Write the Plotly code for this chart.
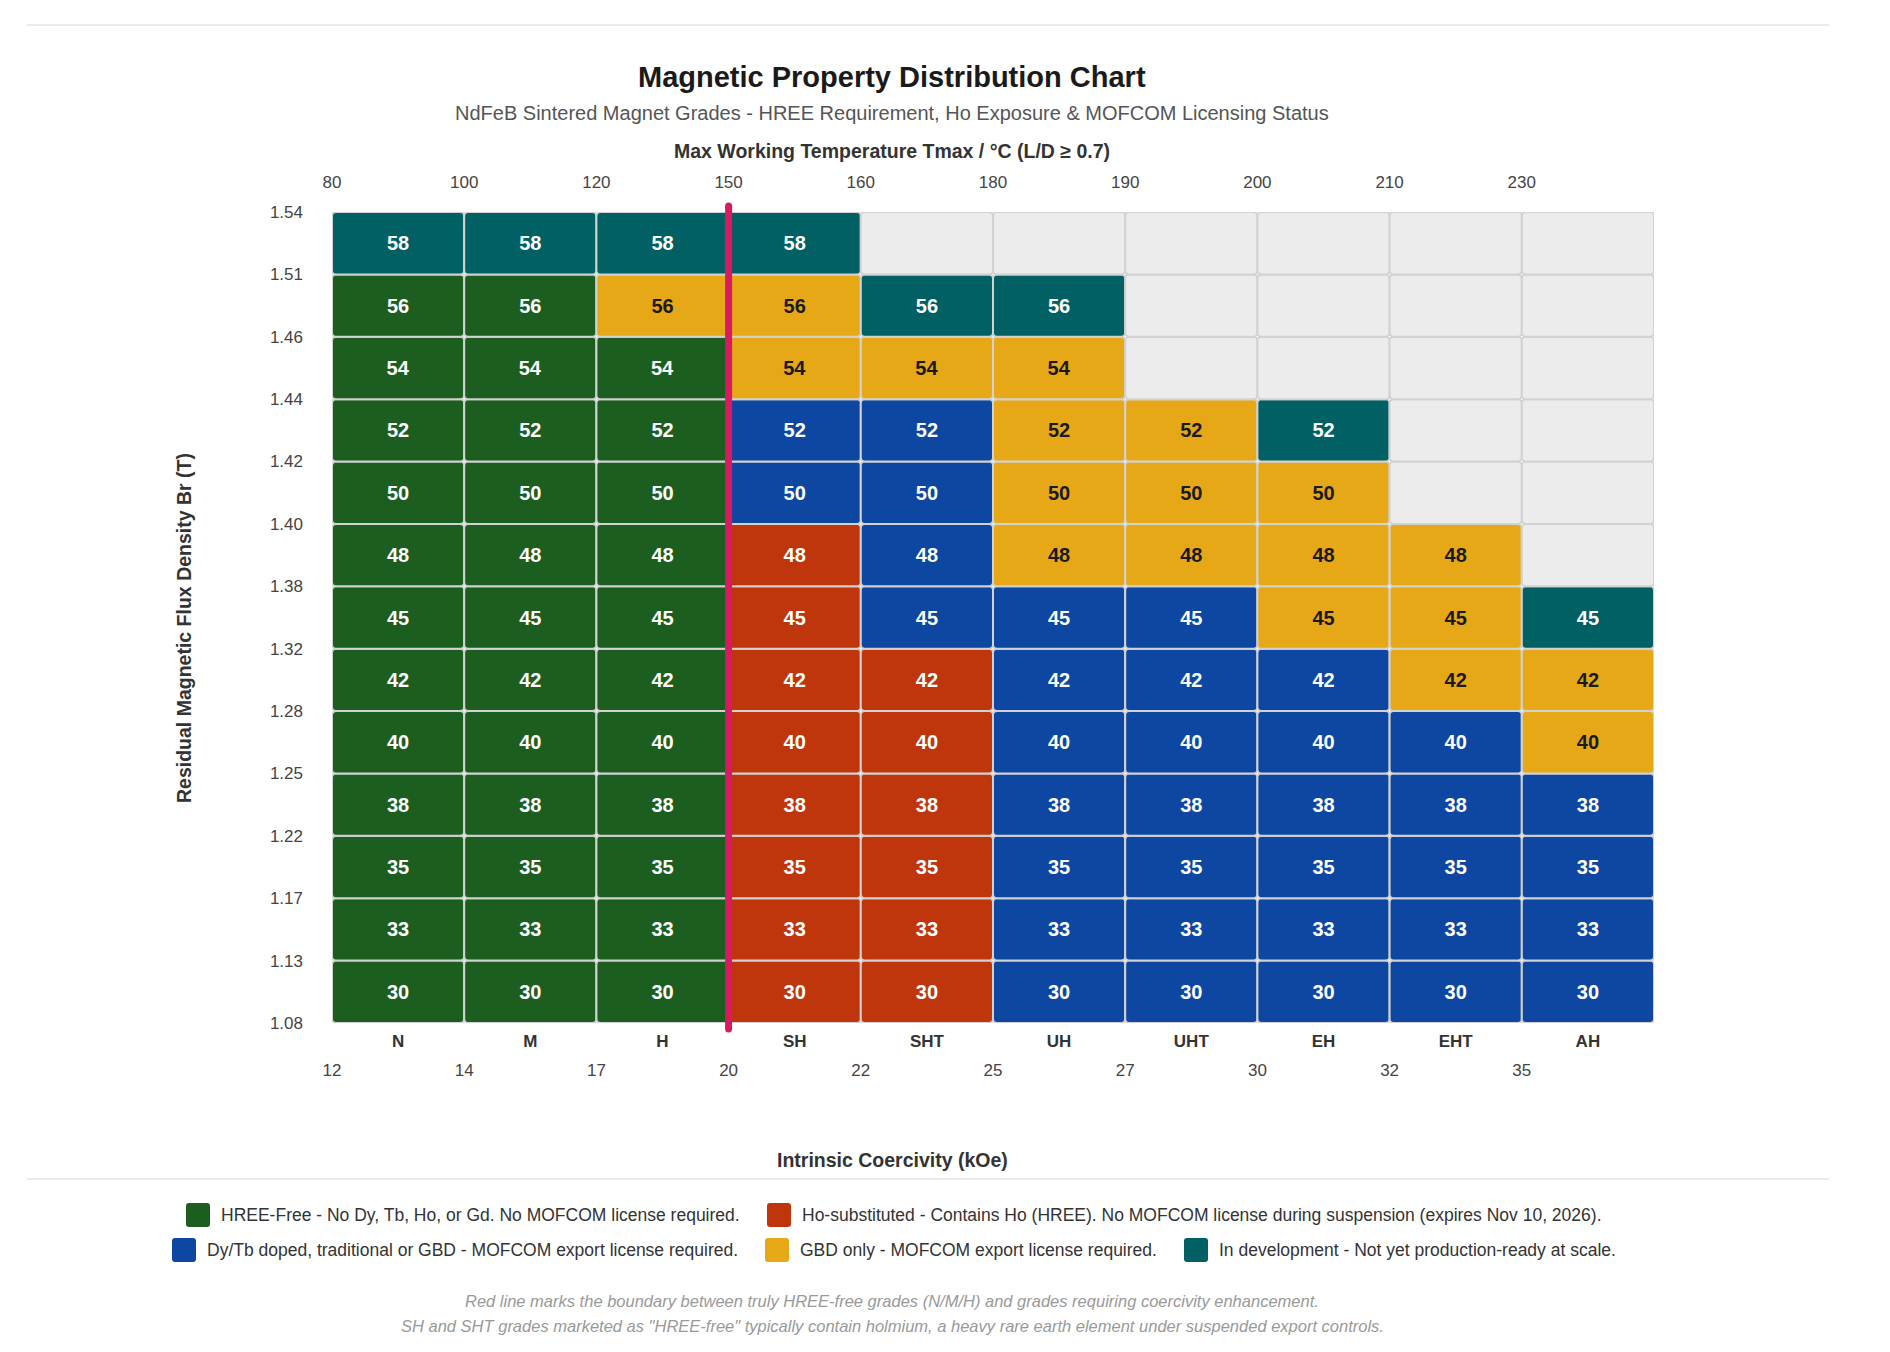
import plotly.graph_objects as go

# grade columns (left -> right) with their Tmax / Hcj boundary ticks
grades = ["N", "M", "H", "SH", "SHT", "UH", "UHT", "EH", "EHT", "AH"]
tmax_c = [80, 100, 120, 150, 160, 180, 190, 200, 210, 230]
hcj_koe = [12, 14, 17, 20, 22, 25, 27, 30, 32, 35]

# rows, bottom -> top
energy = [30, 33, 35, 38, 40, 42, 45, 48, 50, 52, 54, 56, 58]
br_ticks = ["1.08", "1.13", "1.17", "1.22", "1.25", "1.28", "1.32",
            "1.38", "1.40", "1.42", "1.44", "1.46", "1.51", "1.54"]

# status code per grade for each row (bottom -> top)
# G = HREE-free, R = Ho-substituted, B = Dy/Tb, O = GBD only, T = in development, E = not offered
status_rows = [
    "GGGRRBBBBB",  # 30
    "GGGRRBBBBB",  # 33
    "GGGRRBBBBB",  # 35
    "GGGRRBBBBB",  # 38
    "GGGRRBBBBO",  # 40
    "GGGRRBBBOO",  # 42
    "GGGRBBBOOT",  # 45
    "GGGRBOOOOE",  # 48
    "GGGBBOOOEE",  # 50
    "GGGBBOOTEE",  # 52
    "GGGOOOEEEE",  # 54
    "GGOOTTEEEE",  # 56
    "TTTTEEEEEE",  # 58
]

status_codes = ["G", "R", "B", "O", "T", "E"]
status_colors = {"G": "#1b5e20", "R": "#bf360c", "B": "#0d47a1",
                 "O": "#e6a817", "T": "#006064", "E": "#ececec"}
status_text_colors = {"G": "white", "R": "white", "B": "white",
                      "O": "#1a1a1a", "T": "white", "E": "#1a1a1a"}
status_labels = {
    "G": "HREE-Free - No Dy, Tb, Ho, or Gd. No MOFCOM license required.",
    "R": "Ho-substituted - Contains Ho (HREE). No MOFCOM license during suspension (expires Nov 10, 2026).",
    "B": "Dy/Tb doped, traditional or GBD - MOFCOM export license required.",
    "O": "GBD only - MOFCOM export license required.",
    "T": "In development - Not yet production-ready at scale.",
}
legend_rows = [["G", "R"], ["B", "O", "T"]]

boundary_grade = "SH"  # red line sits left of this grade

FONT = "Arial, Liberation Sans, Helvetica, sans-serif"
OFF = 8  # page body margin
W, H = 1890 - 2 * OFF, 1352 - 2 * OFF
L, R, T, B = 324, 228, 204, 30
PW, PH = W - L - R, H - T - B
PLOT_BOTTOM = 1023  # screen px


def px(x):
    return (x - OFF - L) / PW


def py(y):
    return (H - B - (y - OFF)) / PH


def rounded_square(half, r):
    a, b = half - r, half
    return (f"M {-a},{-b} L {a},{-b} Q {b},{-b} {b},{-a} L {b},{a} Q {b},{b} {a},{b} "
            f"L {-a},{b} Q {-b},{b} {-b},{a} L {-b},{-a} Q {-b},{-b} {-a},{-b} Z")


fig = go.Figure()

for code in status_codes:
    xs, bases, texts = [], [], []
    for r, row in enumerate(status_rows):
        for c, ch in enumerate(row):
            if ch == code:
                xs.append(c + 0.5)
                bases.append(r)
                texts.append("" if code == "E" else str(energy[r]))
    fig.add_trace(
        go.Bar(
            x=xs,
            y=[1] * len(xs),
            base=bases,
            width=1,
            text=texts,
            texttemplate="<b>%{text}</b>",
            textposition="inside",
            insidetextanchor="middle",
            textangle=0,
            textfont=dict(size=20, color=status_text_colors[code], family=FONT),
            marker=dict(color=status_colors[code],
                        line=dict(color="#d2d2d2", width=2),
                        cornerradius=4),
            hoverinfo="skip",
            showlegend=False,
        )
    )

# invisible carriers so the temperature and coercivity axes get drawn
fig.add_trace(go.Scatter(x=list(range(len(tmax_c))), y=[0] * len(tmax_c), xaxis="x2",
                         mode="markers", marker=dict(opacity=0), hoverinfo="skip",
                         showlegend=False))
fig.add_trace(go.Scatter(x=list(range(len(hcj_koe))), y=[0] * len(hcj_koe), xaxis="x3",
                         mode="markers", marker=dict(opacity=0), hoverinfo="skip",
                         showlegend=False))

# HREE-free boundary, slightly overhanging the grid with round ends
bx = grades.index(boundary_grade)
line_top, line_bottom = 206, 1029
fig.add_shape(type="line", xref="x", yref="paper", x0=bx, x1=bx, y0=py(line_bottom),
              y1=py(line_top), line=dict(color="#d81b60", width=7), layer="above")
for yy in (line_top, line_bottom):
    fig.add_shape(type="circle", xref="x", yref="paper", xsizemode="pixel", ysizemode="pixel",
                  xanchor=bx, yanchor=py(yy), x0=-3.5, x1=3.5, y0=-3.5, y1=3.5,
                  fillcolor="#d81b60", line=dict(width=0), layer="above")

# page rules
for yy in (25, 1179):
    fig.add_shape(type="line", xref="paper", yref="paper", x0=px(27), x1=px(1829),
                  y0=py(yy), y1=py(yy), line=dict(color="#e4e4e4", width=1.5))

annotations = [
    dict(text="<b>Magnetic Property Distribution Chart</b>", x=px(892), y=py(77),
         font=dict(size=29, color="#1a1a1a")),
    dict(text="NdFeB Sintered Magnet Grades - HREE Requirement, Ho Exposure & MOFCOM Licensing Status",
         x=px(892), y=py(113), font=dict(size=20, color="#555555")),
    dict(text="<b>Max Working Temperature Tmax / °C (L/D ≥ 0.7)</b>", x=px(892), y=py(151),
         font=dict(size=19.5, color="#333333")),
    dict(text="<b>Intrinsic Coercivity (kOe)</b>", x=px(892), y=py(1160),
         font=dict(size=19.5, color="#333333")),
    dict(text="<b>Residual Magnetic Flux Density Br (T)</b>", x=px(184), y=py(628),
         textangle=-90, font=dict(size=19.5, color="#333333")),
    dict(text="<i>Red line marks the boundary between truly HREE-free grades (N/M/H) and grades requiring coercivity enhancement.</i>",
         x=px(892), y=py(1301), font=dict(size=16.5, color="#999999")),
    dict(text="<i>SH and SHT grades marketed as \"HREE-free\" typically contain holmium, a heavy rare earth element under suspended export controls.</i>",
         x=px(892), y=py(1326), font=dict(size=16.5, color="#999999")),
]
for a in annotations:
    a.update(xref="paper", yref="paper", showarrow=False, xanchor="center", yanchor="middle")
    a["font"]["family"] = FONT

# custom legend: two centred rows of rounded swatches
legend_starts = [[186, 767], [172, 765, 1184]]
legend_y = [1215, 1250]
for row, starts, yy in zip(legend_rows, legend_starts, legend_y):
    for code, x0 in zip(row, starts):
        fig.add_shape(type="path", xref="paper", yref="paper",
                      xsizemode="pixel", ysizemode="pixel",
                      xanchor=px(x0 + 12), yanchor=py(yy),
                      path=rounded_square(12, 3),
                      fillcolor=status_colors[code], line=dict(width=0))
        annotations.append(dict(text=status_labels[code], xref="paper", yref="paper",
                                x=px(x0 + 33), y=py(yy), xanchor="left", yanchor="middle",
                                showarrow=False,
                                font=dict(size=17.5, color="#333333", family=FONT)))

tick_font = dict(size=17, color="#444444", family=FONT)
fig.update_layout(
    width=W,
    height=H,
    margin=dict(l=L, r=R, t=T, b=B),
    paper_bgcolor="white",
    plot_bgcolor="white",
    barmode="overlay",
    font=dict(family=FONT),
    annotations=annotations,
    xaxis=dict(
        range=[0, len(grades)],
        tickvals=[i + 0.5 for i in range(len(grades))],
        ticktext=[f"<b>{g}</b>" for g in grades],
        tickfont=dict(size=17, color="#333333", family=FONT),
        ticklabelstandoff=6,
        showgrid=False, zeroline=False, showline=False, fixedrange=True,
    ),
    xaxis2=dict(
        overlaying="x", side="top", anchor="y",
        range=[0, len(grades)],
        tickvals=list(range(len(tmax_c))),
        ticktext=[str(v) for v in tmax_c],
        tickfont=tick_font,
        ticklabelstandoff=20,
        showgrid=False, zeroline=False, showline=False, fixedrange=True,
    ),
    xaxis3=dict(
        overlaying="x", side="bottom", anchor="free", position=py(1058),
        range=[0, len(grades)],
        tickvals=list(range(len(hcj_koe))),
        ticktext=[str(v) for v in hcj_koe],
        tickfont=tick_font,
        showgrid=False, zeroline=False, showline=False, fixedrange=True,
    ),
    yaxis=dict(
        domain=[py(PLOT_BOTTOM), 1],
        range=[0, len(energy)],
        tickvals=list(range(len(br_ticks))),
        ticktext=br_ticks,
        tickfont=tick_font,
        ticklabelstandoff=28,
        showgrid=False, zeroline=False, showline=False, fixedrange=True,
    ),
)

fig.write_html("out.html")
